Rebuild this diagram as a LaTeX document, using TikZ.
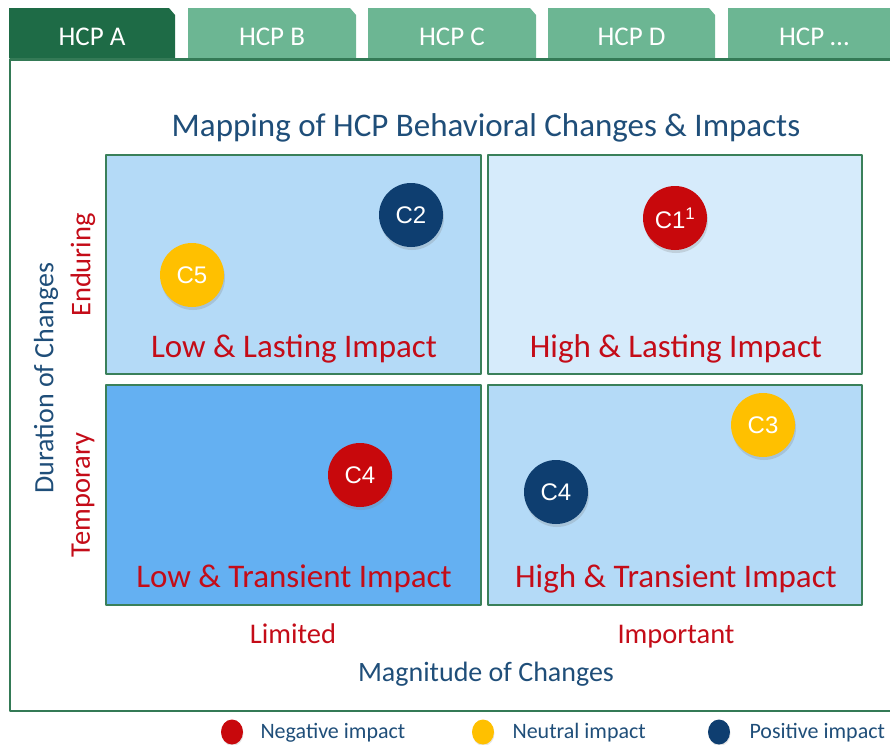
\documentclass[tikz,border=0pt]{standalone}
\usepackage{fontspec}
\setmainfont{Carlito}
\newfontfamily\dotfont{Liberation Sans}
\usetikzlibrary{shadows,shapes.geometric}
\definecolor{tabdark}{RGB}{30,107,70}
\definecolor{tablight}{RGB}{108,182,147}
\definecolor{framegreen}{RGB}{52,122,86}
\definecolor{quadedge}{RGB}{58,128,90}
\definecolor{lightblue}{RGB}{180,218,247}
\definecolor{paleblue}{RGB}{214,235,251}
\definecolor{midblue}{RGB}{100,176,242}
\definecolor{labelred}{RGB}{196,12,24}
\definecolor{axisblue}{RGB}{31,78,121}
\definecolor{negred}{RGB}{200,8,12}
\definecolor{neutyellow}{RGB}{255,192,0}
\definecolor{posblue}{RGB}{14,62,112}
\tikzset{
    matrixpic/.style={
        x=1pt, y=-1pt,
        line cap = round, line join = round,
    },
    tablabel/.style={anchor=base, text=white, font=\fontsize{27}{30}\selectfont},
    quadrant/.style={draw=quadedge, line width=1.8pt},
    quadlabel/.style={anchor=base, text=labelred, font=\fontsize{33}{36}\selectfont},
    axislabel/.style={text=axisblue, font=\fontsize{28}{32}\selectfont},
    scalelabel/.style={text=labelred, font=\fontsize{28.5}{32}\selectfont},
    impact/.style={circle, minimum size=64pt, inner sep=0pt, text=white,
        font=\dotfont\fontsize{24}{26}\selectfont,
        drop shadow={shadow xshift=1pt, shadow yshift=-3pt, opacity=0.25}},
    legenddot/.style={ellipse, minimum width=22pt, minimum height=25pt, inner sep=0pt,
        drop shadow={shadow xshift=0.5pt, shadow yshift=-1.5pt, opacity=0.2}},
    legendtext/.style={anchor=base west, text=axisblue, font=\fontsize{22}{25}\selectfont},
}
\newcommand{\hcptab}[5]{%
    \fill[#5] (#1,58) -- (#1,8) -- ({#2-6},8) -- (#2,15) -- (#2,58) -- cycle;
    \node[tablabel] (#3) at ({(#1+#2)/2},45) {#4};}
\begin{document}
\begin{tikzpicture}[matrixpic]
    \useasboundingbox (0,0) rectangle (890,744);
    % tabs and frame
    \hcptab{9}{175}{tabA}{HCP A}{tabdark}
    \hcptab{188}{356}{tabB}{HCP B}{tablight}
    \hcptab{368}{536}{tabC}{HCP C}{tablight}
    \hcptab{548}{715}{tabD}{HCP D}{tablight}
    \hcptab{728}{900}{tabE}{HCP \dots}{tablight}
    \draw[framegreen, line width=2.6pt] (10,59.5) rectangle (896,711);
    \node[axislabel, anchor=base, font=\fontsize{33}{36}\selectfont] (title) at (486,136)
        {Mapping of HCP Behavioral Changes \& Impacts};
    % quadrants
    \filldraw[quadrant, fill=lightblue] (106,155) rectangle (481,374);
    \filldraw[quadrant, fill=paleblue] (488,155) rectangle (862,374);
    \filldraw[quadrant, fill=midblue] (106,385) rectangle (481,605);
    \filldraw[quadrant, fill=lightblue] (488,385) rectangle (862,605);
    \node[quadlabel] (lowlast) at (294,357) {Low \& Lasting Impact};
    \node[quadlabel] (highlast) at (676,357) {High \& Lasting Impact};
    \node[quadlabel] (lowtrans) at (294,587) {Low \& Transient Impact};
    \node[quadlabel] (hightrans) at (676,587) {High \& Transient Impact};
    % changes
    \node[impact, fill=posblue] (c2) at (411,215) {C2};
    \node[impact, fill=neutyellow] (c5) at (192,275) {C5};
    \node[impact, fill=negred] (c1) at (675,218) {C1\textsuperscript{1}};
    \node[impact, fill=neutyellow] (c3) at (763,425) {C3};
    \node[impact, fill=negred] (c4neg) at (360,475) {C4};
    \node[impact, fill=posblue] (c4pos) at (556,492) {C4};
    % axes
    \node[axislabel, rotate=90] (duration) at (46,378) {Duration of Changes};
    \node[scalelabel, rotate=90] (enduring) at (83,265) {Enduring};
    \node[scalelabel, rotate=90] (temporary) at (83,495) {Temporary};
    \node[scalelabel, anchor=base] (limited) at (293,643) {Limited};
    \node[scalelabel, anchor=base] (important) at (676,643) {Important};
    \node[axislabel, anchor=base] (magnitude) at (486,681) {Magnitude of Changes};
    % legend
    \node[legenddot, fill=negred] (negdot) at (232,732) {};
    \node[legendtext] (negtext) at (257,738) {Negative impact};
    \node[legenddot, fill=neutyellow] (neudot) at (483,732) {};
    \node[legendtext] (neutext) at (509,738) {Neutral impact};
    \node[legenddot, fill=posblue] (posdot) at (719,732) {};
    \node[legendtext] (postext) at (746,738) {Positive impact};
\end{tikzpicture}
\end{document}
